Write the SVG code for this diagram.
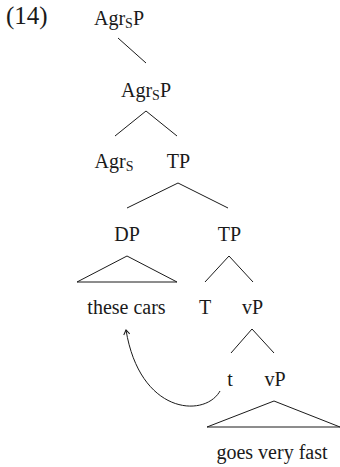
<svg xmlns="http://www.w3.org/2000/svg" width="340" height="467" viewBox="0 0 340 467">
  <style>
    text { font-family: "Liberation Serif", "Times New Roman", serif; font-size: 20px; fill: #1a1a1a; text-anchor: middle; }
    .sub { font-size: 14px; }
    .lbl { text-anchor: start; font-size: 25px; }
    .edge { stroke: #1a1a1a; stroke-width: 1; fill: none; }
  </style>
  <defs>
    <marker id="head" markerUnits="userSpaceOnUse" markerWidth="10" markerHeight="10" viewBox="-6 -5 8 10" refX="0" refY="0" orient="auto">
      <path d="M-4.5,-3 L0,0 L-4.5,3" fill="none" stroke="#1a1a1a" stroke-width="1"/>
    </marker>
  </defs>
  <rect width="340" height="467" fill="#ffffff"/>
  <text class="lbl" x="6" y="24">(14)</text>

  <g id="connectors">
    <line class="edge" x1="118" y1="38" x2="146" y2="63"/>
    <polyline class="edge" points="115,136 146,111 177,136"/>
    <polyline class="edge" points="127,208 178,183 228,208"/>
    <polygon class="edge" points="77,282 127,256 177,282"/>
    <polyline class="edge" points="205,282 229,256 253,282"/>
    <polyline class="edge" points="231,353 252,329 274,353"/>
    <polygon class="edge" points="207,427 274,401 340,427"/>
    <path class="edge" d="M220,391 C205,418 140,415 126,330" marker-end="url(#head)"/>
  </g>

  <g id="node-agrsp-top"><text x="119" y="25">Agr<tspan class="sub" dy="3">S</tspan><tspan dy="-3">P</tspan></text></g>
  <g id="node-agrsp"><text x="146" y="97">Agr<tspan class="sub" dy="3">S</tspan><tspan dy="-3">P</tspan></text></g>
  <g id="node-agrs"><text x="114" y="168">Agr<tspan class="sub" dy="3">S</tspan></text></g>
  <g id="node-tp1"><text x="178.5" y="168">TP</text></g>
  <g id="node-dp"><text x="127" y="241">DP</text></g>
  <g id="node-tp2"><text x="229.5" y="241">TP</text></g>
  <g id="node-these-cars"><text x="126.5" y="314">these cars</text></g>
  <g id="node-t-head"><text x="205" y="314">T</text></g>
  <g id="node-vp1"><text x="252.5" y="314">vP</text></g>
  <g id="node-trace"><text x="230" y="386">t</text></g>
  <g id="node-vp2"><text x="275" y="386">vP</text></g>
  <g id="node-goes"><text x="272" y="459">goes very fast</text></g>
</svg>
